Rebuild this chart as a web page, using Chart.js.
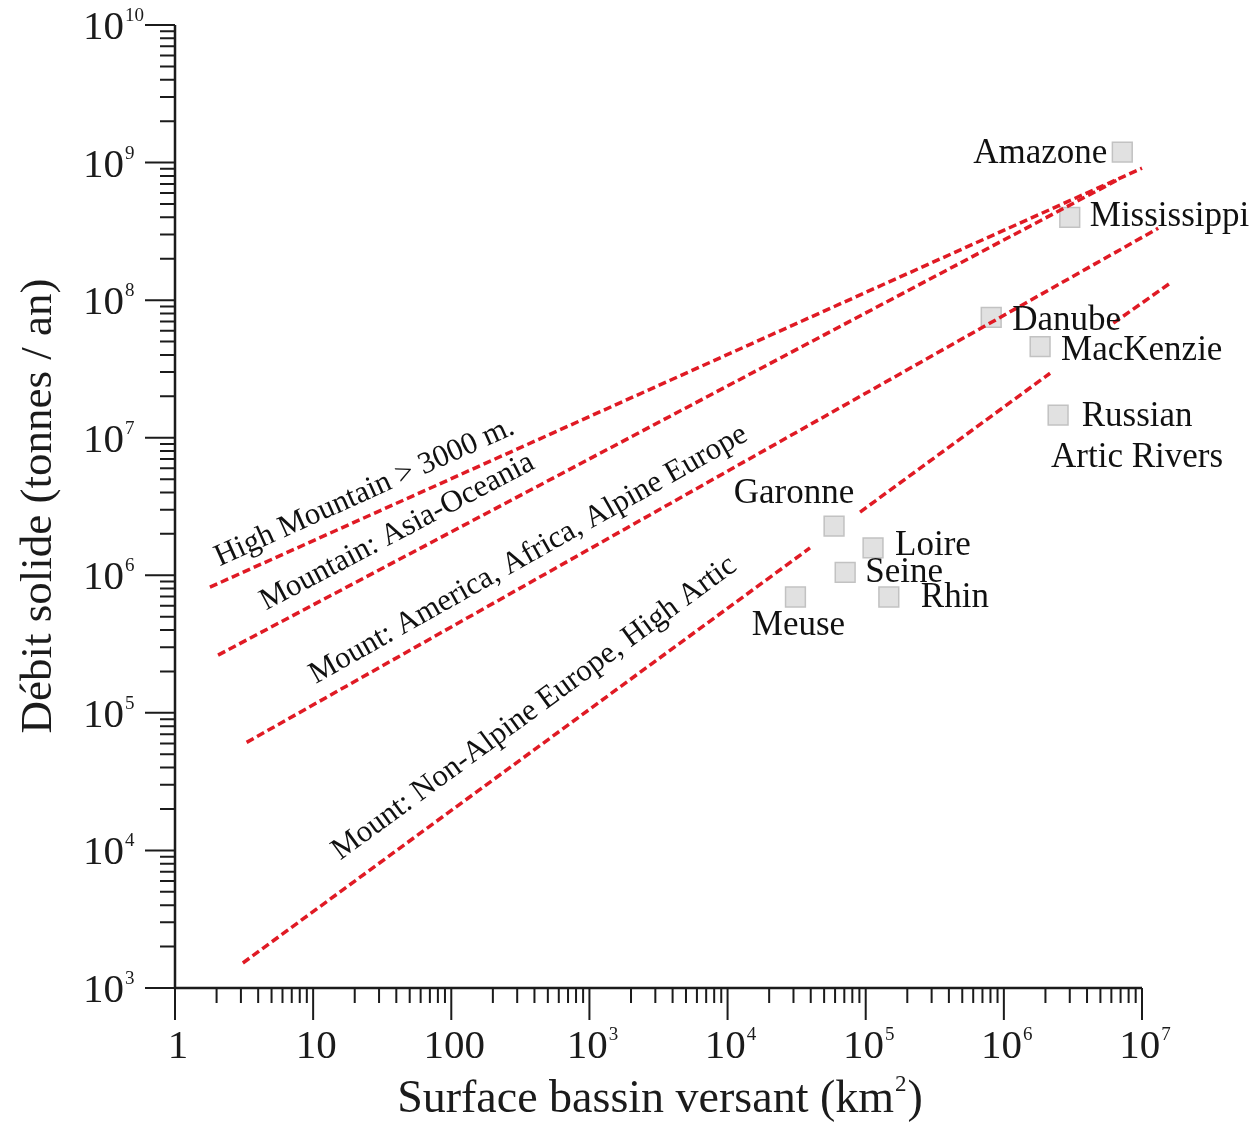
<!DOCTYPE html>
<html>
<head>
<meta charset="utf-8">
<script src="https://cdn.jsdelivr.net/npm/chart.js@4/dist/chart.umd.min.js"></script>
<style>
  html, body { margin: 0; padding: 0; background: #fff; }
  #wrap { width: 1260px; height: 1124px; }
</style>
</head>
<body>
<div id="wrap"><canvas id="chart" width="1260" height="1124"></canvas></div>
<script>
// rivers: drainage area (km2) and sediment load (t / yr)
const rivers = ["Amazone", "Mississippi", "Danube", "MacKenzie", "Russian\nArtic Rivers",
                "Garonne", "Loire", "Seine", "Rhin", "Meuse"];
const riverArea = [7.2e6, 3.0e6, 8.1e5, 1.83e6, 2.47e6, 5.9e4, 1.13e5, 7.1e4, 1.47e5, 3.1e4];
const riverLoad = [1.19e9, 4.0e8, 7.5e7, 4.6e7, 1.46e7, 2.28e6, 1.58e6, 1.05e6, 6.95e5, 6.95e5];

// trend lines (null = break in the dashed line)
const trendNames = ["High Mountain > 3000 m.", "Mountain: Asia-Oceania",
                    "Mount: America, Africa, Alpine Europe", "Mount: Non-Alpine Europe, High Artic"];
const trendArea = [
  [1.79, 1.0e7],
  [2.05, 6.6e6],
  [3.3, 1.31e7],
  [3.1, 3.95e4, null, 9.1e4, 2.16e6, null, 6.2e6, 1.6e7]
];
const trendLoad = [
  [8.2e5, 9.1e8],
  [2.63e5, 7.45e8],
  [6.1e4, 3.33e8],
  [1.52e3, 1.58e6, null, 2.88e6, 2.94e7, null, 6.8e7, 1.33e8]
];

// axis ticks
const xTicks = [1, 10, 100, 1e3, 1e4, 1e5, 1e6, 1e7];
const xTickLabels = ["1", "10", "100", "10^3", "10^4", "10^5", "10^6", "10^7"];
const yTicks = [1e3, 1e4, 1e5, 1e6, 1e7, 1e8, 1e9, 1e10];
const yTickLabels = ["10^3", "10^4", "10^5", "10^6", "10^7", "10^8", "10^9", "10^10"];

// label placement (pixels from the point)
const riverLabelPos = [
  { dx: -15, dy: 2, align: "right" },
  { dx: 20, dy: -1, align: "left" },
  { dx: 21, dy: 3, align: "left" },
  { dx: 21, dy: 4, align: "left" },
  { dx: 79, dy: 2, align: "center" },
  { dx: -40, dy: -32, align: "center" },
  { dx: 22, dy: -2, align: "left" },
  { dx: 20, dy: 0, align: "left" },
  { dx: 32, dy: 1, align: "left" },
  { dx: 3, dy: 29, align: "center" }
];
// where each trend label starts (x value on the line) and its offset above the line
const trendLabelStart = [2.34, 5.2, 12.0, 20.1];
const trendLabelOffset = [15, 17, 17, 25];

const FONT = '"Liberation Serif", "Times New Roman", serif';
const INK = "#1b1b1b";

function splitPow(s) {
  const i = s.indexOf("^");
  return i < 0 ? [s, ""] : [s.slice(0, i), s.slice(i + 1)];
}

function drawPow(ctx, text, x, y, mode) {
  const [b, e] = splitPow(text);
  ctx.font = "41px " + FONT;
  const wb = ctx.measureText(b).width;
  ctx.font = "19px " + FONT;
  const we = e ? ctx.measureText(e).width + 1 : 0;
  const x0 = mode === "center" ? x - (wb + we) / 2 : x - wb;
  ctx.textAlign = "left";
  ctx.textBaseline = "alphabetic";
  ctx.font = "41px " + FONT;
  ctx.fillText(b, x0, y);
  if (e) {
    ctx.font = "19px " + FONT;
    ctx.fillText(e, x0 + wb + 1, y - 18);
  }
}

const axesPlugin = {
  id: "logAxes",
  afterDatasetsDraw(chart) {
    const ctx = chart.ctx;
    const xs = chart.scales.x, ys = chart.scales.y;
    const a = chart.chartArea;
    ctx.save();

    // river labels
    ctx.fillStyle = "#111";
    ctx.font = "35px " + FONT;
    ctx.textBaseline = "middle";
    rivers.forEach((name, i) => {
      const p = riverLabelPos[i];
      const px = xs.getPixelForValue(riverArea[i]) + p.dx;
      const py = ys.getPixelForValue(riverLoad[i]) + p.dy;
      ctx.textAlign = p.align;
      name.split("\n").forEach((line, k) => ctx.fillText(line, px, py + k * 41));
    });

    // trend line labels, rotated along each line
    ctx.font = "31px " + FONT;
    ctx.textBaseline = "alphabetic";
    ctx.textAlign = "left";
    trendNames.forEach((name, i) => {
      const xa = trendArea[i], ya = trendLoad[i];
      const n = xa.length - 1;
      const x1 = xs.getPixelForValue(xa[0]), y1 = ys.getPixelForValue(ya[0]);
      const x2 = xs.getPixelForValue(xa[n]), y2 = ys.getPixelForValue(ya[n]);
      const ang = Math.atan2(y1 - y2, x2 - x1);
      const sx = xs.getPixelForValue(trendLabelStart[i]);
      const sy = y1 + (sx - x1) * (y2 - y1) / (x2 - x1);
      const d = trendLabelOffset[i];
      ctx.save();
      ctx.translate(sx - d * Math.sin(ang), sy - d * Math.cos(ang));
      ctx.rotate(-ang);
      ctx.fillText(name, 0, 0);
      ctx.restore();
    });

    // axes
    ctx.strokeStyle = INK;
    ctx.fillStyle = INK;
    ctx.lineWidth = 2.5;
    ctx.beginPath();
    ctx.moveTo(a.left, a.top);
    ctx.lineTo(a.left, a.bottom);
    ctx.lineTo(a.right, a.bottom);
    ctx.stroke();

    ctx.lineWidth = 2;
    ctx.beginPath();
    yTicks.forEach((v, k) => {
      const y = ys.getPixelForValue(v);
      ctx.moveTo(a.left - 30, y);
      ctx.lineTo(a.left, y);
      if (k < yTicks.length - 1) {
        for (let m = 2; m <= 9; m++) {
          const ym = ys.getPixelForValue(v * m);
          ctx.moveTo(a.left - 15, ym);
          ctx.lineTo(a.left, ym);
        }
      }
    });
    xTicks.forEach((v, k) => {
      const x = xs.getPixelForValue(v);
      ctx.moveTo(x, a.bottom);
      ctx.lineTo(x, a.bottom + 32);
      if (k < xTicks.length - 1) {
        for (let m = 2; m <= 9; m++) {
          const xm = xs.getPixelForValue(v * m);
          ctx.moveTo(xm, a.bottom);
          ctx.lineTo(xm, a.bottom + 15);
        }
      }
    });
    ctx.stroke();

    yTicks.forEach((v, k) => drawPow(ctx, yTickLabels[k], a.left - 51, ys.getPixelForValue(v) + 14, "right"));
    xTicks.forEach((v, k) => drawPow(ctx, xTickLabels[k], xs.getPixelForValue(v) + 3, a.bottom + 70, "center"));

    // axis titles
    ctx.font = "46px " + FONT;
    const t1 = "Surface bassin versant (km", t2 = "2", t3 = ")";
    const w1 = ctx.measureText(t1).width, w3 = ctx.measureText(t3).width;
    ctx.font = "23px " + FONT;
    const w2 = ctx.measureText(t2).width + 2;
    let tx = 660 - (w1 + w2 + w3) / 2;
    const ty = 1112;
    ctx.font = "46px " + FONT;
    ctx.fillText(t1, tx, ty);
    ctx.fillText(t3, tx + w1 + w2, ty);
    ctx.font = "23px " + FONT;
    ctx.fillText(t2, tx + w1 + 1, ty - 21);

    ctx.save();
    ctx.translate(51, 506);
    ctx.rotate(-Math.PI / 2);
    ctx.font = "45px " + FONT;
    ctx.textAlign = "center";
    ctx.fillText("Débit solide (tonnes / an)", 0, 0);
    ctx.restore();

    ctx.restore();
  }
};

const lineSets = trendNames.map((name, i) => ({
  label: name,
  data: trendArea[i].map((x, k) => ({ x: x, y: trendLoad[i][k] })),
  showLine: true,
  spanGaps: false,
  pointRadius: 0,
  borderColor: "#e01a24",
  borderWidth: 3.5,
  borderDash: [8, 4],
  fill: false,
  clip: false
}));

const riverSet = {
  label: "Rivers",
  data: riverArea.map((x, i) => ({ x: x, y: riverLoad[i] })),
  pointStyle: "rect",
  pointRadius: 14,
  backgroundColor: "#e1e1e1",
  borderColor: "#c2c2c2",
  borderWidth: 1.5,
  clip: false
};

new Chart(document.getElementById("chart"), {
  type: "scatter",
  data: { datasets: [...lineSets, riverSet] },
  options: {
    responsive: false,
    animation: false,
    devicePixelRatio: 1,
    layout: { padding: { left: 175, right: 118, top: 25, bottom: 136 } },
    plugins: { legend: { display: false }, tooltip: { enabled: false } },
    scales: {
      x: { type: "logarithmic", min: 1, max: 1e7, display: false },
      y: { type: "logarithmic", min: 1e3, max: 1e10, display: false }
    }
  },
  plugins: [axesPlugin]
});
</script>
</body>
</html>
